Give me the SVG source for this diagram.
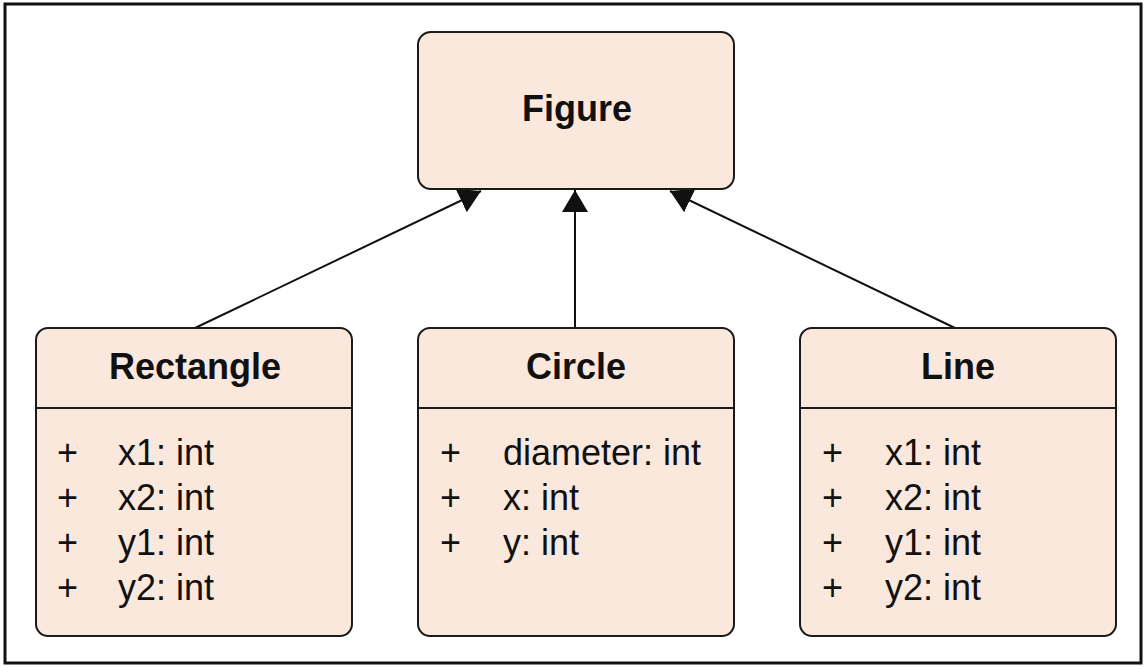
<svg xmlns="http://www.w3.org/2000/svg" width="1147" height="667" viewBox="0 0 1147 667">
<style>
.box{fill:#fbe8dd;stroke:#1a1a1a;stroke-width:2}
.div{stroke:#1a1a1a;stroke-width:2}
.title{font-family:"Liberation Sans",Arial,sans-serif;font-weight:bold;font-size:36px;text-anchor:middle;fill:#111}
.attr{font-family:"Liberation Sans",Arial,sans-serif;font-size:36px;fill:#111}
.plus{font-family:"Liberation Sans",Arial,sans-serif;font-size:36px;fill:#111;font-weight:300}
.conn{stroke:#111;stroke-width:2;fill:none}
</style>
<defs>
<marker id="tri" viewBox="0 0 22 26" refX="22" refY="13" markerWidth="22" markerHeight="26" markerUnits="userSpaceOnUse" orient="auto">
<path d="M0,0 L22,13 L0,26 Z" fill="#111"/>
</marker>
</defs>
<rect x="5" y="4" width="1136" height="659" fill="#fff" stroke="#111" stroke-width="3"/>
<g id="connectors">
<line class="conn" x1="195" y1="328" x2="481" y2="191" marker-end="url(#tri)"/>
<line class="conn" x1="575" y1="328" x2="575" y2="190" marker-end="url(#tri)"/>
<line class="conn" x1="955" y1="328" x2="670" y2="191" marker-end="url(#tri)"/>
</g>
<g id="figure">
<rect class="box" x="418" y="32" width="316" height="157" rx="13"/>
<text class="title" x="577" y="121">Figure</text>
</g>
<g id="rectangle">
<rect class="box" x="36" y="328" width="316" height="308" rx="12"/>
<line class="div" x1="36" y1="408" x2="352" y2="408"/>
<text class="title" x="195" y="379">Rectangle</text>
<text class="plus" x="57" y="465">+</text><text class="attr" x="118" y="465">x1: int</text>
<text class="plus" x="57" y="510">+</text><text class="attr" x="118" y="510">x2: int</text>
<text class="plus" x="57" y="555">+</text><text class="attr" x="118" y="555">y1: int</text>
<text class="plus" x="57" y="600">+</text><text class="attr" x="118" y="600">y2: int</text>
</g>
<g id="circle">
<rect class="box" x="418" y="328" width="316" height="308" rx="12"/>
<line class="div" x1="418" y1="408" x2="734" y2="408"/>
<text class="title" x="576" y="379">Circle</text>
<text class="plus" x="440" y="465">+</text><text class="attr" x="503" y="465">diameter: int</text>
<text class="plus" x="440" y="510">+</text><text class="attr" x="503" y="510">x: int</text>
<text class="plus" x="440" y="555">+</text><text class="attr" x="503" y="555">y: int</text>
</g>
<g id="line">
<rect class="box" x="800" y="328" width="316" height="308" rx="12"/>
<line class="div" x1="800" y1="408" x2="1116" y2="408"/>
<text class="title" x="958" y="379">Line</text>
<text class="plus" x="822" y="465">+</text><text class="attr" x="885" y="465">x1: int</text>
<text class="plus" x="822" y="510">+</text><text class="attr" x="885" y="510">x2: int</text>
<text class="plus" x="822" y="555">+</text><text class="attr" x="885" y="555">y1: int</text>
<text class="plus" x="822" y="600">+</text><text class="attr" x="885" y="600">y2: int</text>
</g>
</svg>
